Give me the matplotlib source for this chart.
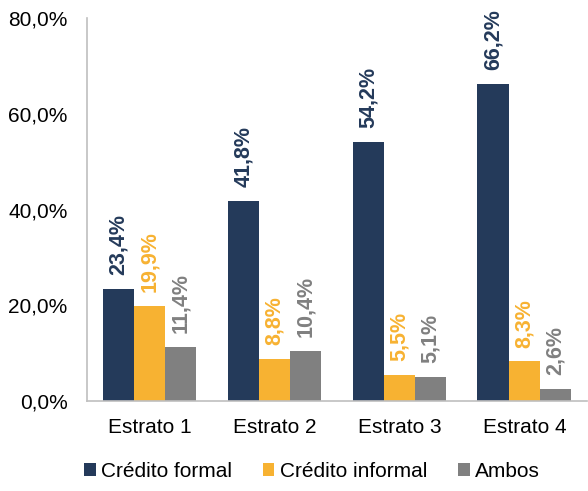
import matplotlib.pyplot as plt
import numpy as np

plt.rcParams['font.family'] = ['Liberation Sans', 'DejaVu Sans']

estratos = ['Estrato 1', 'Estrato 2', 'Estrato 3', 'Estrato 4']
formal = [23.4, 41.8, 54.2, 66.2]
informal = [19.9, 8.8, 5.5, 8.3]
ambos = [11.4, 10.4, 5.1, 2.6]

series = [('Crédito formal', formal, '#243A5A'),
          ('Crédito informal', informal, '#F7B232'),
          ('Ambos', ambos, '#808080')]

fig = plt.figure(figsize=(5.88, 4.91), dpi=100)
ax = fig.add_axes([0.148, 0.183, 0.85, 0.78])

x = np.arange(len(estratos))
w = 0.25
for i, (name, vals, col) in enumerate(series):
    pos = x + (i - 1) * w
    ax.bar(pos, vals, w, color=col, label=name)
    for p, v in zip(pos, vals):
        ax.annotate(f'{v:.1f}%'.replace('.', ','), (p, v), xytext=(0, 10),
                    textcoords='offset points', rotation=90, ha='center',
                    va='bottom', color=col, fontsize=15.5, fontweight='bold')

ax.set_xlim(-0.5, 3.5)
ax.set_ylim(0, 80)
ax.set_yticks(range(0, 81, 20))
ax.set_yticklabels([f'{t},0%' for t in range(0, 81, 20)], fontsize=15)
ax.set_xticks(x)
ax.set_xticklabels(estratos, fontsize=15)
ax.tick_params(length=0)
ax.tick_params(axis='x', pad=12)
ax.tick_params(axis='y', pad=14)
for s in ['top', 'right']:
    ax.spines[s].set_visible(False)
for s in ['left', 'bottom']:
    ax.spines[s].set_color('#BFBFBF')
    ax.spines[s].set_linewidth(1.2)

ax.legend(loc='upper center', bbox_to_anchor=(0.45, -0.11), ncol=3,
          frameon=False, fontsize=15, handlelength=0.55, handleheight=0.55,
          handletextpad=0.25, columnspacing=1.5)

fig.savefig('out.png')
